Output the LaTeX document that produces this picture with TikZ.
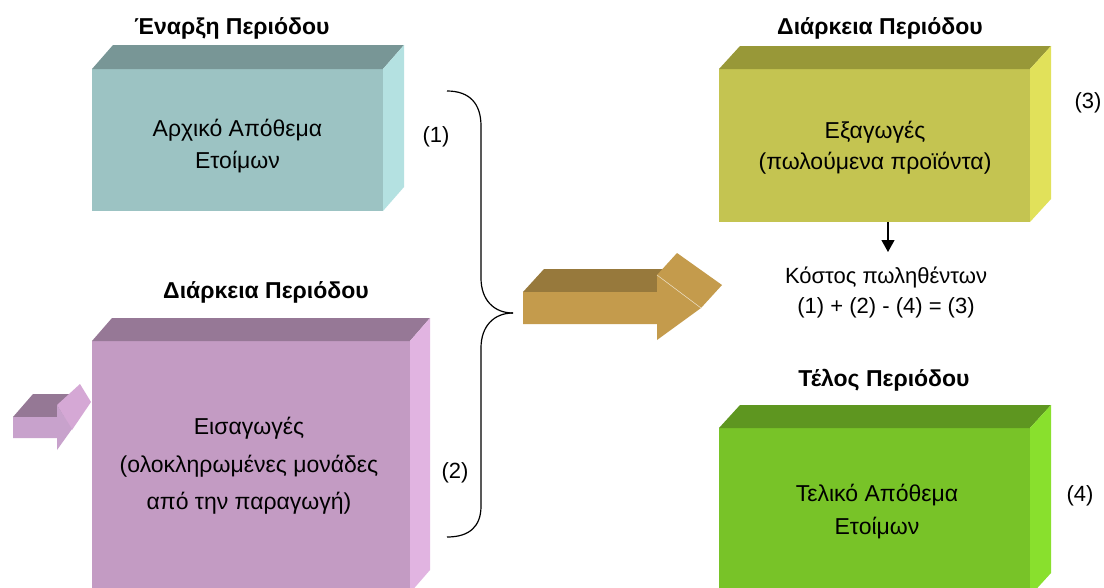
\documentclass[tikz,border=0pt]{standalone}
\usepackage{fontspec}
\setmainfont{Liberation Sans}
\usetikzlibrary{arrows.meta}
\definecolor{tealF}{HTML}{9CC3C3}
\definecolor{tealT}{HTML}{789696}
\definecolor{tealS}{HTML}{B4E1E1}
\definecolor{purF}{HTML}{C39BC3}
\definecolor{purT}{HTML}{967896}
\definecolor{purS}{HTML}{E1B4E1}
\definecolor{olvF}{HTML}{C4C451}
\definecolor{olvT}{HTML}{989838}
\definecolor{olvS}{HTML}{E1E15A}
\definecolor{grnF}{HTML}{78C328}
\definecolor{grnT}{HTML}{5E9620}
\definecolor{grnS}{HTML}{89E02D}
\definecolor{brnF}{HTML}{C49B4C}
\definecolor{brnT}{HTML}{97793C}
\definecolor{saF}{HTML}{C8A2CC}
\definecolor{saT}{HTML}{957895}
\definecolor{saH}{HTML}{D5A8D5}
\newcommand\cubefaces[5]{%
  \fill[#4] (#1.north west) -- ++(#2,-#3) -- ([shift={(#2,-#3)}]#1.north east) -- (#1.north east) -- cycle;
  \fill[#5] (#1.north east) -- ++(#2,-#3) -- ([shift={(#2,-#3)}]#1.south east) -- (#1.south east) -- cycle;}
\begin{document}
\begin{tikzpicture}[x=1pt,y=-1pt,
  face/.style={inner sep=0pt, outer sep=0pt},
  btxt/.style={align=center, inner sep=0pt, font=\fontsize{23}{32}\selectfont},
  ttl/.style={anchor=base, inner sep=0pt, font=\bfseries\fontsize{23}{27}\selectfont},
  lbl/.style={inner sep=0pt, font=\fontsize{22}{26}\selectfont},
  brace/.style={draw=black, line width=1.2pt}]
\useasboundingbox (0,0) rectangle (1104,587);
\clip (0,0) rectangle (1104,587);
\fill[white] (0,0) rectangle (1104,587);

% Box 1
\node[face, fill=tealF, minimum width=291pt, minimum height=142pt] (b1) at (237.5,140) {};
\cubefaces{b1}{21}{24}{tealT}{tealS}
\node[btxt] (t1) at (237.5,146) {Αρχικό Απόθεμα\\Ετοίμων};
\node[ttl] (h1) at (232,34) {Έναρξη Περιόδου};

% Box 2
\node[face, fill=purF, minimum width=318pt, minimum height=252pt] (b2) at (251,467) {};
\cubefaces{b2}{20}{23}{purT}{purS}
\node[btxt, font=\fontsize{23}{37.5}\selectfont] (t2) at (249,466) {Εισαγωγές\\(ολοκληρωμένες μονάδες\\από την παραγωγή)};
\node[ttl] (h2) at (266,298) {Διάρκεια Περιόδου};

% Box 3
\node[face, fill=olvF, minimum width=311pt, minimum height=153pt] (b3) at (874.5,145.5) {};
\cubefaces{b3}{21}{23}{olvT}{olvS}
\node[btxt, font=\fontsize{23}{31}\selectfont] (t3) at (875,148) {Εξαγωγές\\(πωλούμενα προϊόντα)};
\node[ttl] (h3) at (880,34) {Διάρκεια Περιόδου};

% Box 4
\node[face, fill=grnF, minimum width=311pt, minimum height=168pt] (b4) at (874.5,512) {};
\cubefaces{b4}{21}{23}{grnT}{grnS}
\node[btxt, font=\fontsize{23}{33}\selectfont] (t4) at (877,511.5) {Τελικό Απόθεμα\\Ετοίμων};
\node[ttl] (h4) at (884,386) {Τέλος Περιόδου};

% labels
\node[lbl] (l1) at (436,137) {(1)};
\node[lbl] (l2) at (455,473) {(2)};
\node[lbl] (l3) at (1088,103) {(3)};
\node[lbl] (l4) at (1080,496) {(4)};

% cost text
\node[btxt, font=\fontsize{22}{30}\selectfont] (cost) at (886,292) {Κόστος πωληθέντων\\(1) + (2) - (4) = (3)};
\coordinate (tipc) at (888,252);
\draw[line width=1.2pt, -{Triangle[width=13pt,length=12pt]}] (b3.south -| tipc) -- (tipc);

% brace
\coordinate (bt) at (513,313);
\draw[brace] (447,91) .. controls (470,91) and (481,104) .. (481,126) -- (481,278)
  .. controls (481,300) and (494,313) .. (bt);
\draw[brace] (bt) .. controls (494,313) and (481,326) .. (481,348) -- (481,506)
  .. controls (481,526) and (470,537) .. (447,537);

% big brown arrow
\fill[brnT] (523,292) -- (544,269) -- (662,269) -- (662,292) -- cycle;
\fill[brnF] (657,275) -- (677,253) -- (722,285) -- (701,308) -- cycle;
\fill[brnF] (523,292) -- (657,292) -- (657,275) -- (701,308) -- (657,340) -- (657,324) -- (523,324) -- cycle;
\draw[white!70!brnF, line width=0.5pt] (657,275) -- (701,308);

% small purple arrow
\fill[saT] (13,417) -- (33,394) -- (70,394) -- (70,417) -- cycle;
\fill[saH] (57,405) -- (80,384) -- (91,402) -- (72,430) -- cycle;
\fill[saF] (13,417) -- (57,417) -- (57,405) -- (72,429) -- (57,450) -- (57,438) -- (13,438) -- cycle;
\end{tikzpicture}
\end{document}
